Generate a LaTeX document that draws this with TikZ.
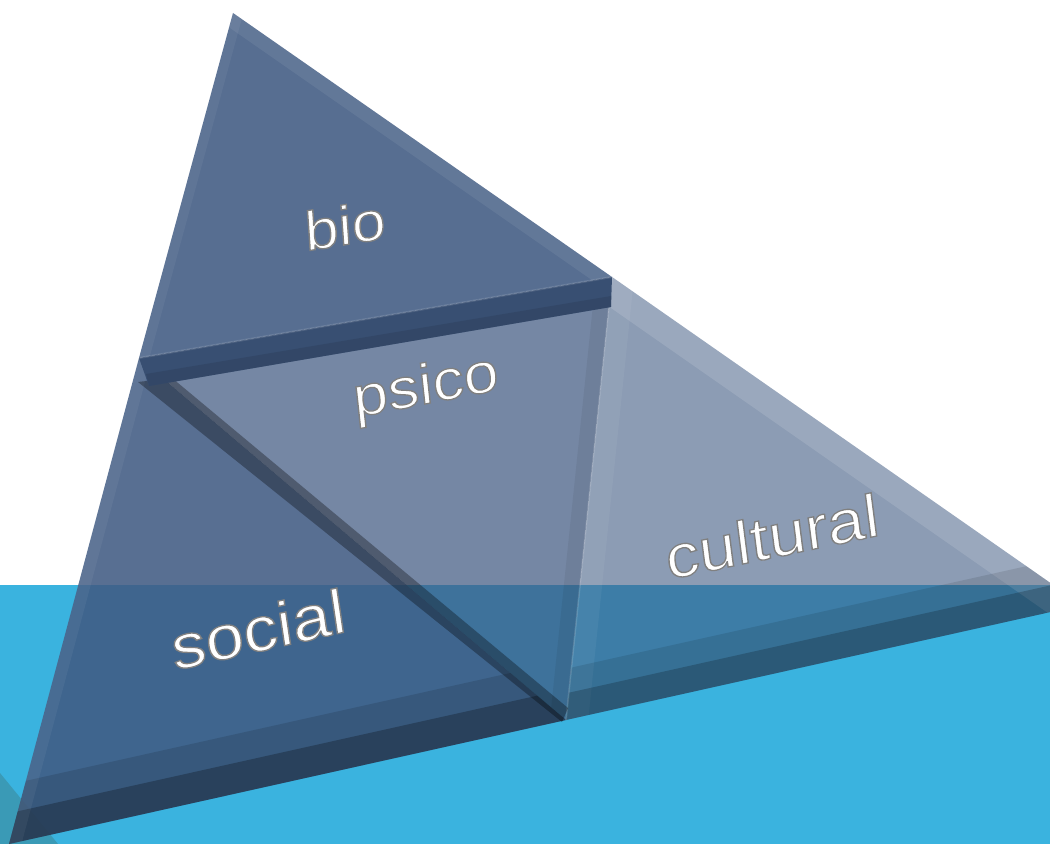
\documentclass[tikz,border=0pt]{standalone}
\usepackage{fontspec}
\setmainfont{Liberation Sans}
\definecolor{pyrnavy}{RGB}{64,90,130}
\definecolor{pyrband}{RGB}{58,179,223}
\definecolor{pyrteal}{RGB}{58,154,182}
% white word with a grey rim
\newcommand{\rimword}[1]{\special{pdf:code 2 Tr 0.5 0.5 0.5 RG 0.7 w}#1\special{pdf:code 0 Tr}}
\begin{document}
\begin{tikzpicture}[x=0.5pt,y=-0.5pt,
  face/.style={fill=pyrnavy,fill opacity=#1},
  lit/.style={draw=white,draw opacity=#1,shorten >=-30pt,shorten <=-30pt},
  dim/.style={draw=black,draw opacity=#1,shorten >=-30pt,shorten <=-30pt},
  word/.style={text=white,inner sep=0pt,xslant=0.12,yscale=0.93,font=\fontsize{#1}{#1}\selectfont}]
 \useasboundingbox (0,0) rectangle (1050,844);
 \clip (0,0) rectangle (1050,844);
 \fill[white](0,0) rectangle (1050,844);
 \fill[pyrband](0,585) rectangle (1050,844);
 \fill[pyrteal](0,773)--(58,844)--(0,844)--cycle;
 % corners of the pyramid
 \coordinate (A) at (233,13);
 \coordinate (L) at (139,358);
 \coordinate (R) at (612,277);
 \coordinate (B) at (9,844);
 \coordinate (M) at (566,720);
 \coordinate (C) at (1082,605);
 % faces
 \fill[face=0.88](A)--(L)--(R)--cycle;
 \fill[face=0.72](L)--(R)--(M)--cycle;
 \fill[face=0.87](L)--(M)--(B)--cycle;
 \fill[face=0.60](R)--(C)--(M)--cycle;
 % bevels of bio
 \begin{scope}
  \clip (A)--(L)--(R)--cycle;
  \draw[lit=0.07,line width=14](A)--(R);
  \draw[lit=0.05,line width=10](A)--(L);
 \end{scope}
 % bevels of social
 \begin{scope}
  \clip (L)--(M)--(B)--cycle;
  \draw[dim=0.12,line width=58](B)--(M);
  \draw[dim=0.25,line width=30](B)--(M);
  \draw[lit=0.05,line width=12](L)--(B);
 \end{scope}
 % bevels of psico
 \begin{scope}
  \clip (L)--(R)--(M)--cycle;
  \draw[dim=0.06,line width=16](R)--(M);
 \end{scope}
 % bevels of cultural
 \begin{scope}
  \clip (R)--(C)--(M)--cycle;
  \draw[lit=0.13,line width=26](R)--(C);
  \draw[lit=0.05,line width=22](R)--(M);
  \draw[dim=0.10,line width=50](M)--(C);
  \draw[dim=0.20,line width=26](M)--(C);
 \end{scope}
 \draw[white,opacity=0.15,line width=0.8](R)--(M);
 % thick edge between social and psico
 \fill[black,opacity=0.32](138,382)--(172,378)--(568,708)--(562,722)--cycle;
 % ledge under bio
 \fill[pyrnavy!88!black](L)--(R)--(611,307)--(149,386)--cycle;
 \fill[pyrnavy!70!black,opacity=0.45](149,386)--(611,307)--(611,296)--(146,374)--cycle;
 \draw[white,opacity=0.12,line width=1](L)--(R);
 % labels
 \node[word=30,rotate=10] (bio) at (345,225) {\rimword{bio}};
 \node[word=31,rotate=12] (psico) at (426,389) {\rimword{psico}};
 \node[word=34,rotate=14] (social) at (258,629) {\rimword{social}};
 \node[word=33,rotate=13] (cultural) at (772,536) {\rimword{cultural}};
\end{tikzpicture}
\end{document}
